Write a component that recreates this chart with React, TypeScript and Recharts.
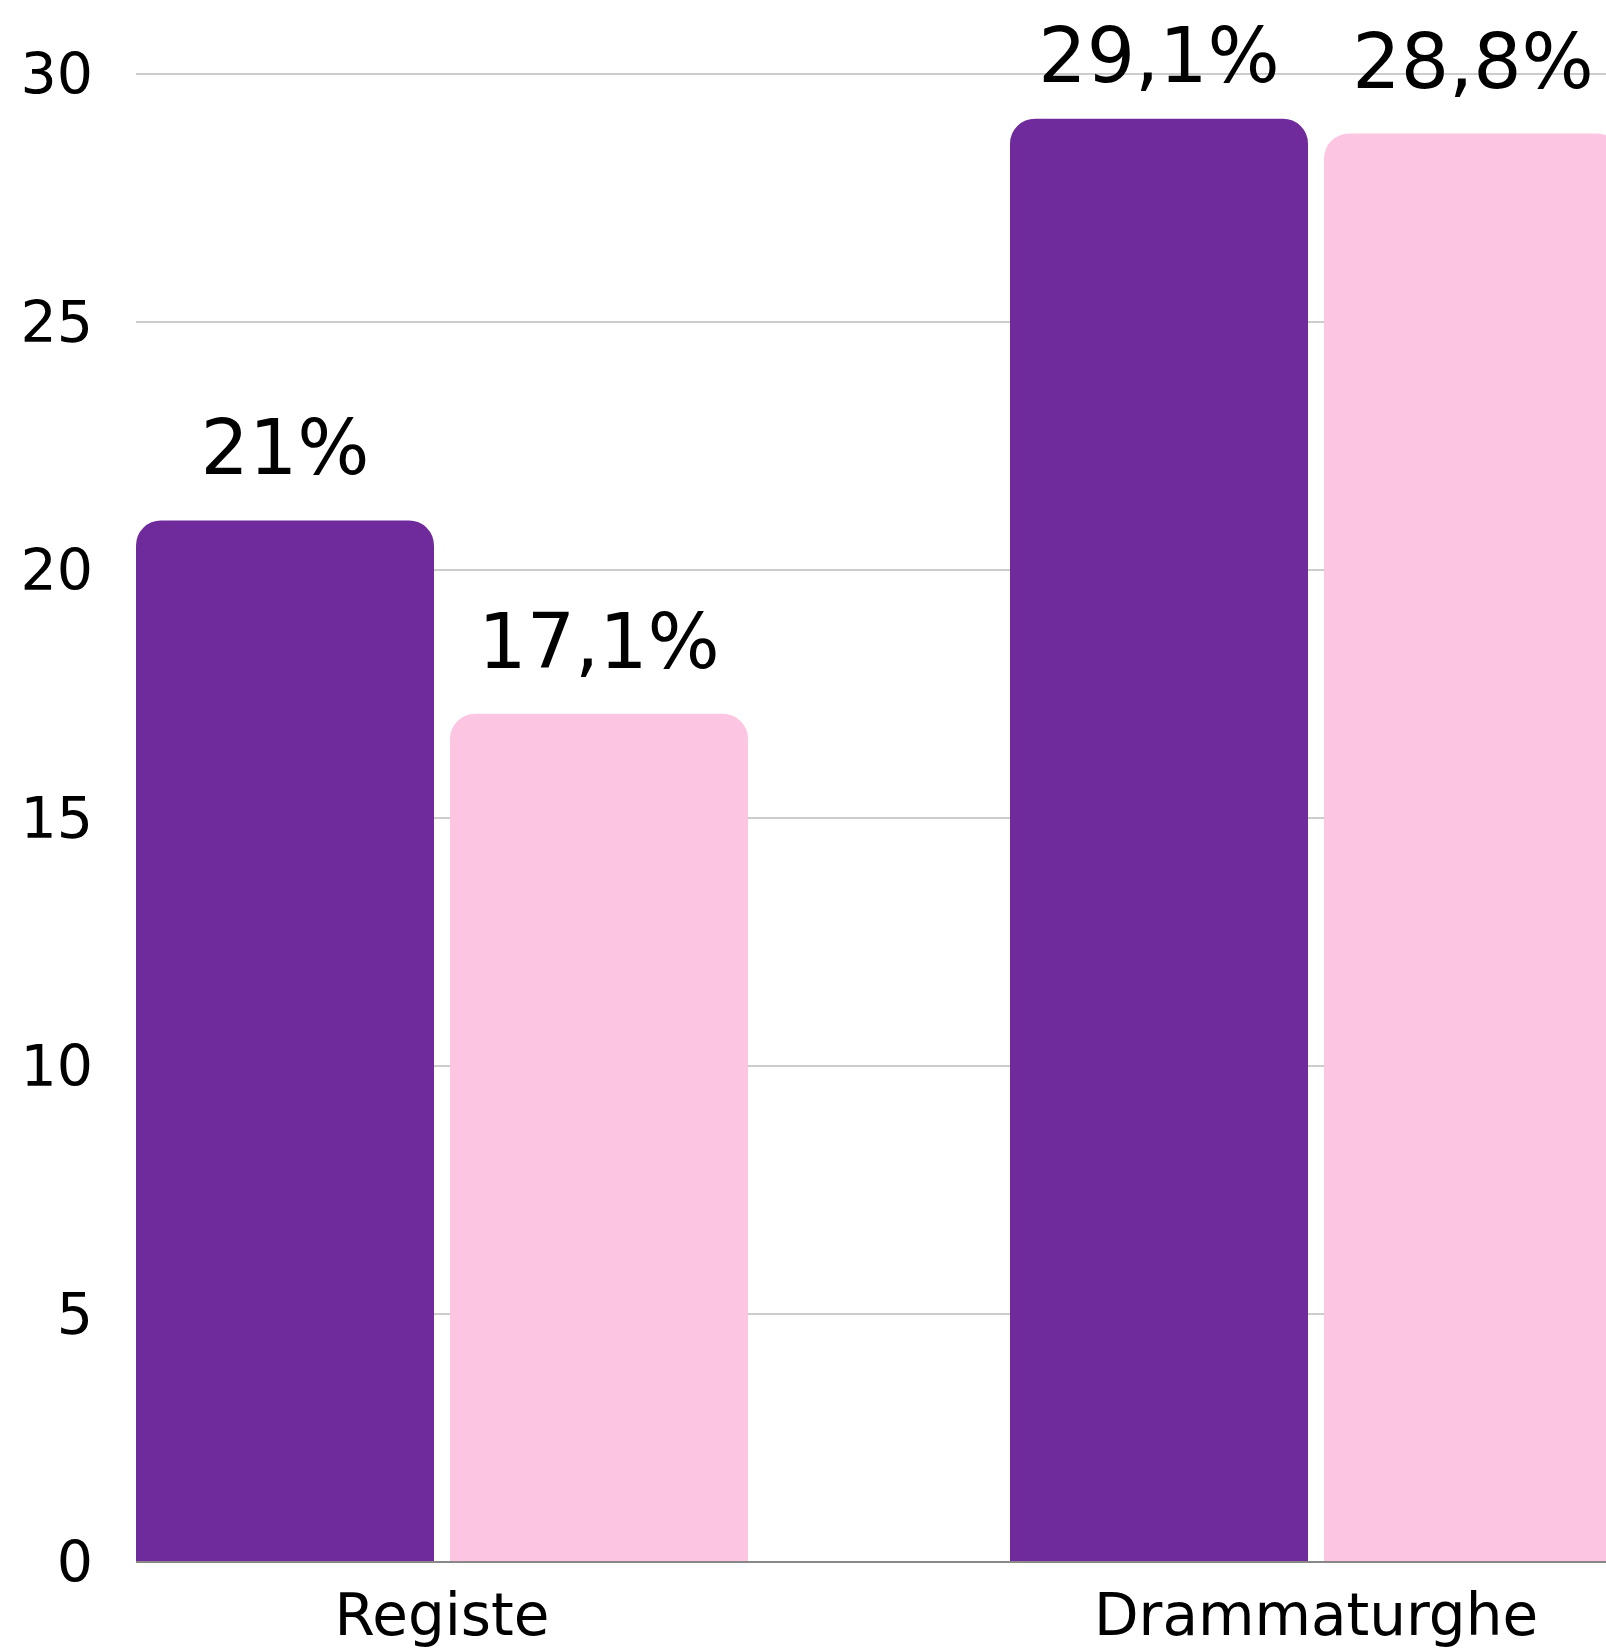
import React from 'react';
import { BarChart, Bar, XAxis, YAxis, CartesianGrid, LabelList } from 'recharts';

const categories = ['Registe', 'Drammaturghe'];
const seriesPurple = [21, 29.1];
const seriesPink = [17.1, 28.8];
const yTicks = [0, 5, 10, 15, 20, 25, 30];

const data = categories.map((c, i) => ({ name: c, a: seriesPurple[i], b: seriesPink[i] }));

const FONT = '"DejaVu Sans", sans-serif';

const fmt = (v: number) => String(v).replace('.', ',') + '%';

const ValueLabel = (props: any) => {
  const { x, y, width, value } = props;
  const ty = Math.max(Number(y) - 46, 82);
  return (
    <text
      x={Number(x) + Number(width) / 2}
      y={ty}
      textAnchor="middle"
      fontFamily={FONT}
      fontSize={76}
      fill="#000"
    >
      {fmt(value)}
    </text>
  );
};

export default function App() {
  return (
    <div style={{ position: 'absolute', left: 0, top: 0, width: 1606, height: 1648, overflow: 'hidden', background: '#fff' }}>
      <BarChart
        width={1753}
        height={1648}
        data={data}
        margin={{ top: 74, right: 0, left: 0, bottom: 0 }}
        barCategoryGap={131}
        barGap={16}
      >
        <CartesianGrid vertical={false} stroke="#cccccc" strokeWidth={2} />
        <YAxis
          width={136}
          domain={[0, 30]}
          ticks={yTicks}
          axisLine={false}
          tickLine={false}
          tickSize={0}
          tickMargin={43}
          tick={{ fontSize: 57, fill: '#000', fontFamily: FONT }}
        />
        <XAxis
          dataKey="name"
          height={86}
          padding={{ left: -131, right: 0 }}
          tickLine={false}
          tickSize={0}
          tickMargin={32}
          axisLine={{ stroke: '#888888', strokeWidth: 2 }}
          tick={{ fontSize: 58, fill: '#000', fontFamily: FONT }}
        />
        <Bar dataKey="a" fill="#6F2B9C" radius={[25, 25, 0, 0]} isAnimationActive={false}>
          <LabelList dataKey="a" content={<ValueLabel />} />
        </Bar>
        <Bar dataKey="b" fill="#FCC5E2" radius={[25, 25, 0, 0]} isAnimationActive={false}>
          <LabelList dataKey="b" content={<ValueLabel />} />
        </Bar>
      </BarChart>
    </div>
  );
}
